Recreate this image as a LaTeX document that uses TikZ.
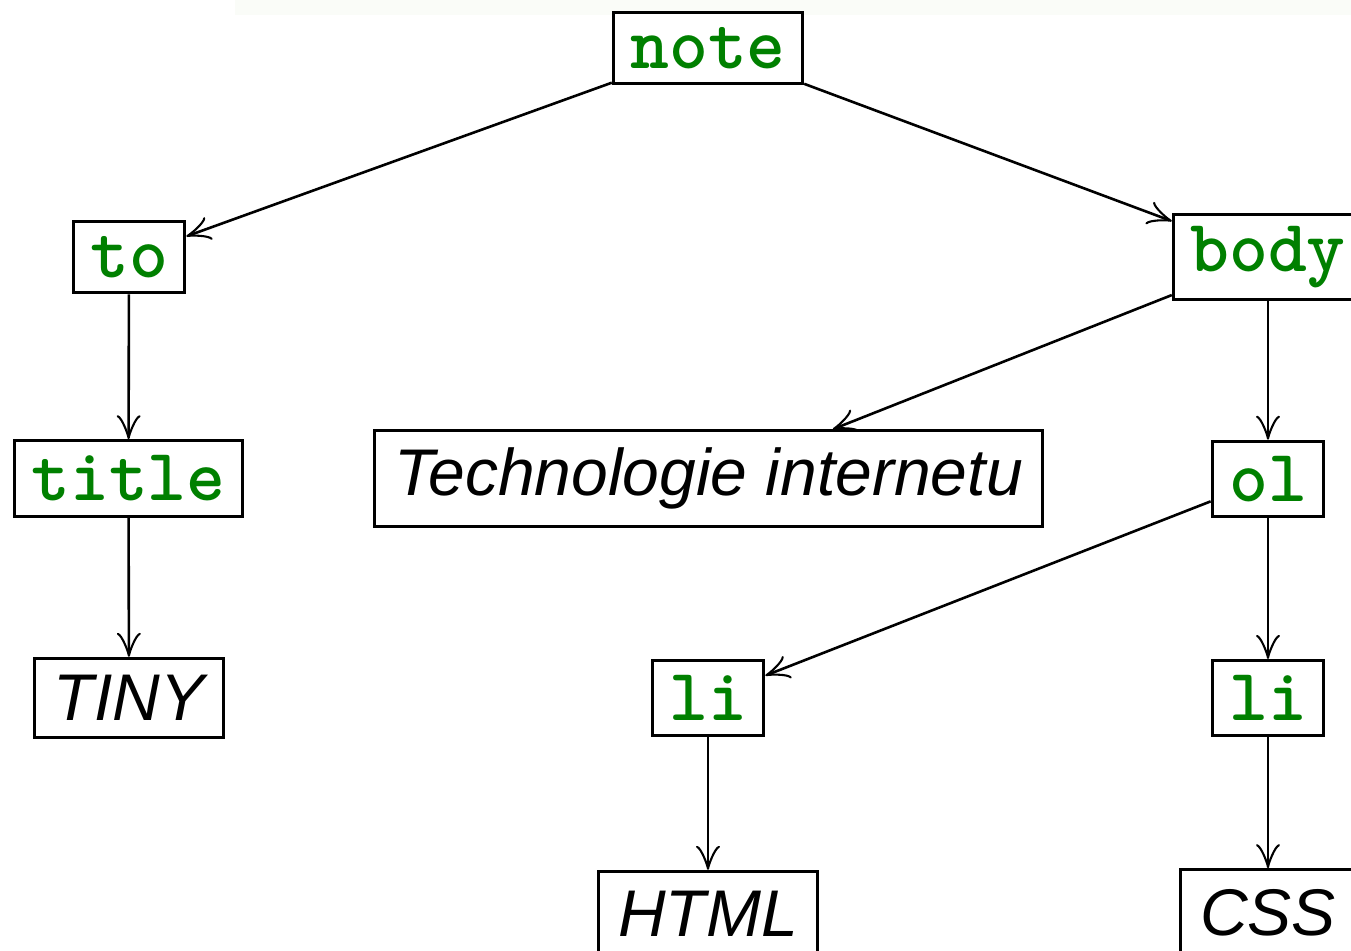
\documentclass[tikz,border=0pt]{standalone}
\usepackage{fontspec}
\newfontfamily\sansit{Liberation Sans}
\usetikzlibrary{arrows.meta}
\definecolor{codegreen}{RGB}{0,128,0}
\definecolor{bandgray}{RGB}{250,252,248}
\begin{document}
\begin{tikzpicture}[x=0.5pt,y=-0.5pt,
  box/.style={draw, line width=1.5pt, fill=white},
  tag/.style={box, font=\fontsize{37}{44}\selectfont\ttfamily\bfseries, text=codegreen, inner xsep=8.5pt, inner ysep=7.5pt},
  txt/.style={box, font=\fontsize{33}{40}\selectfont\sansit\itshape, inner xsep=9.8pt, inner ysep=8.5pt},
  leaf/.style={txt, inner ysep=10pt},
  link/.style={line width=1.3pt, -{Classical TikZ Rightarrow[length=12pt,width=12pt]}}]
\useasboundingbox (0,0) rectangle (1351,950);
\clip (0,0) rectangle (1351,950);
\fill[bandgray] (235,0) rectangle (1351,15);

\node[tag] (note) at (708,48) {note};
\node[tag] (to) at (129,257) {to};
\node[tag, inner ysep=6pt] (body) at (1268,257) {body};
\node[tag] (title) at (128.5,478.5) {title};
\node[txt] (tech) at (708.5,478.5) {Technologie internetu};
\node[tag] (ol) at (1268,479) {ol};
\node[txt] (tiny) at (129,698) {TINY};
\node[tag] (li1) at (708,698) {li};
\node[tag] (li2) at (1268,698) {li};
\node[leaf] (html) at (708,914) {HTML};
\node[leaf] (css) at (1268,913) {CSS};

\draw[link] (note) -- (to);
\draw[link] (note) -- (body);
\draw[link] (to) -- (title);
\draw[link] (title) -- (tiny);
\draw[link] (body) -- (tech);
\draw[link] (body) -- (ol);
\draw[link] (ol) -- (li1);
\draw[link] (ol) -- (li2);
\draw[link] (li1) -- (html);
\draw[link] (li2) -- (css);
\end{tikzpicture}
\end{document}
